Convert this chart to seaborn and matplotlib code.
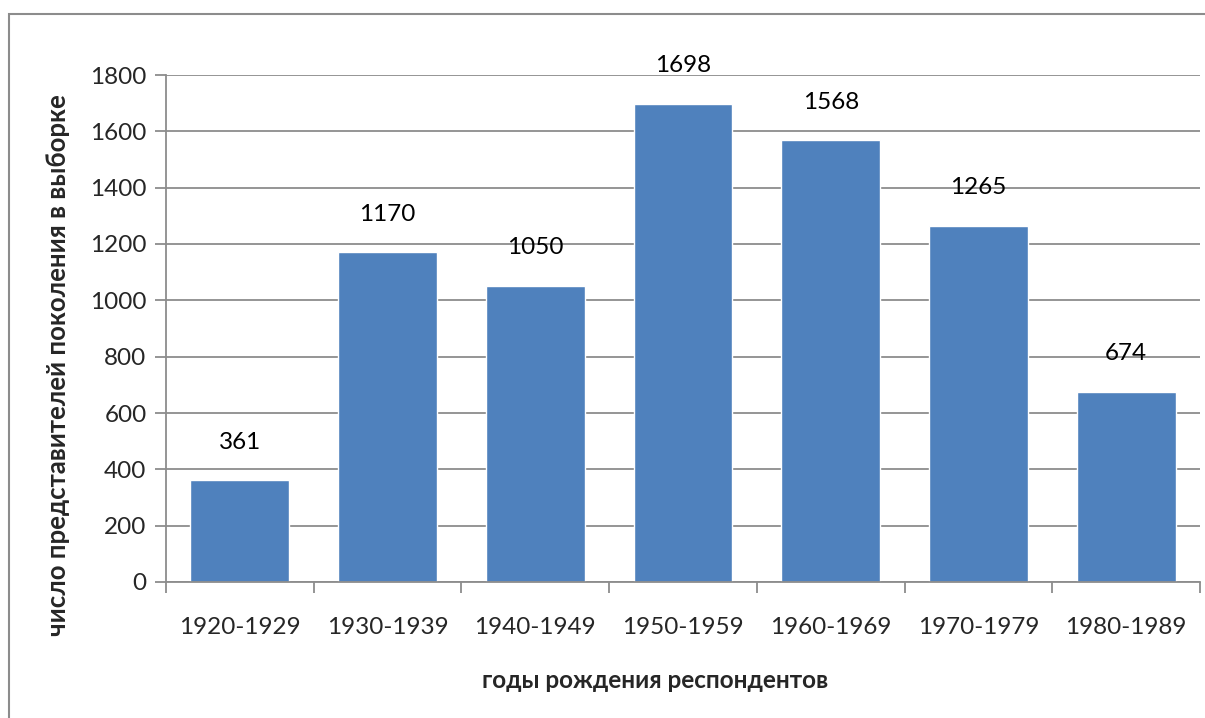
import matplotlib
matplotlib.use("Agg")
import matplotlib.pyplot as plt
import seaborn as sns
import pandas as pd
from matplotlib.patches import Rectangle

# data
periods = ["1920-1929", "1930-1939", "1940-1949", "1950-1959",
           "1960-1969", "1970-1979", "1980-1989"]
counts = [361, 1170, 1050, 1698, 1568, 1265, 674]
yticks = [0, 200, 400, 600, 800, 1000, 1200, 1400, 1600, 1800]

df = pd.DataFrame({"period": periods, "count": counts})

sns.set_theme(style="white")
plt.rcParams["font.family"] = ["Lato", "DejaVu Sans"]

fig = plt.figure(figsize=(12.05, 7.18), dpi=100)
ax = fig.add_axes([166 / 1205, 1 - 582 / 718, (1200 - 166) / 1205, (582 - 75) / 718])

sns.barplot(data=df, x="period", y="count", color="#4F81BD", width=0.67,
            saturation=1, ax=ax)

ax.set_ylim(0, 1800)
ax.set_xlim(-0.5, len(periods) - 0.5)
ax.set_yticks(yticks)
ax.yaxis.grid(True, color="#8c8c8c", linewidth=1.3)
ax.set_axisbelow(True)

for s in ["top", "right"]:
    ax.spines[s].set_visible(False)
for s in ["left", "bottom"]:
    ax.spines[s].set_color("#8c8c8c")
    ax.spines[s].set_linewidth(1.3)

# category boundary ticks
ax.set_xticks([i - 0.5 for i in range(len(periods) + 1)], minor=True)
ax.tick_params(axis="x", which="minor", length=8, color="#8c8c8c", width=1.3)
ax.tick_params(axis="x", which="major", length=0, pad=25, labelsize=17.5)
ax.tick_params(axis="y", length=8, color="#8c8c8c", width=1.3, labelsize=17.5, pad=6)
ax.yaxis.set_ticks_position("left")
ax.xaxis.set_ticks_position("bottom")

for i, v in enumerate(counts):
    ax.annotate(str(v), (i, v), xytext=(0, 20), textcoords="offset points",
                ha="center", va="bottom", fontsize=17.5, color="black")

ax.set_xlabel("годы рождения респондентов", fontsize=17.5, fontweight="bold")
ax.set_ylabel("число представителей поколения в выборке", fontsize=18.5,
              fontweight="bold")
# titles in the original sit a bit off-centre
ax.xaxis.set_label_coords(0.473, -0.172)
ax.yaxis.set_label_coords(-0.093, 0.428)

# outer chart frame
fig.patches.append(Rectangle((9 / 1205, -0.1), 1.2, 1 - 14 / 718 + 0.1,
                             transform=fig.transFigure, fill=False,
                             edgecolor="#8c8c8c", linewidth=1.5))

fig.savefig("out.png", dpi=100)
